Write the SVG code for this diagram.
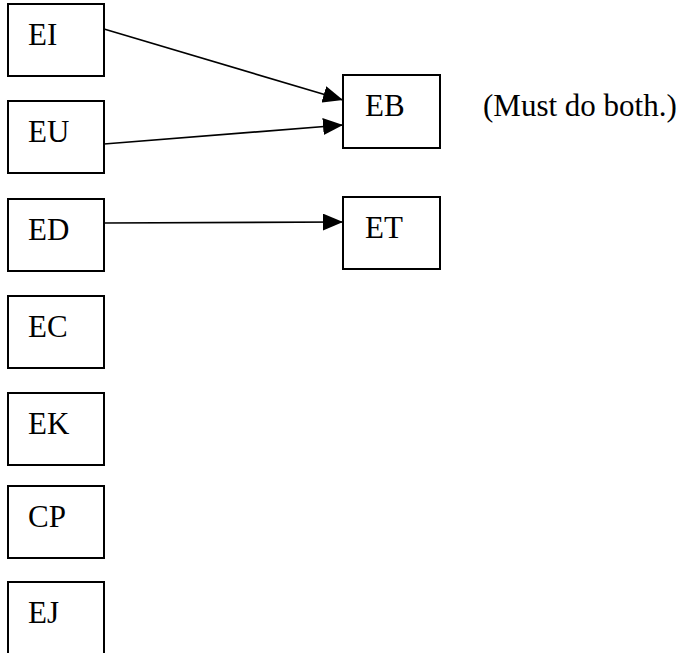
<svg xmlns="http://www.w3.org/2000/svg" width="686" height="653" viewBox="0 0 686 653">
<style>
.box{fill:#fff;stroke:#000;stroke-width:2}
.lbl{font-family:"Liberation Serif","Times New Roman",serif;font-size:31px;fill:#000}
.edge{stroke:#000;stroke-width:1.6;fill:none}
</style>
<defs>
<marker id="arr" viewBox="0 0 20 17" refX="20" refY="8.5" markerWidth="20" markerHeight="17" markerUnits="userSpaceOnUse" orient="auto">
<path d="M0,0 L20,8.5 L0,17 Z" fill="#000"/>
</marker>
</defs>
<rect width="686" height="653" fill="#fff"/>
<g id="connectors">
<line class="edge" x1="104" y1="29" x2="343" y2="100" marker-end="url(#arr)"/>
<line class="edge" x1="104" y1="144" x2="343" y2="125" marker-end="url(#arr)"/>
<line class="edge" x1="104" y1="223" x2="343" y2="222" marker-end="url(#arr)"/>
</g>
<g id="EI"><rect class="box" x="8" y="4" width="96" height="72"/><text class="lbl" x="28" y="45">EI</text></g>
<g id="EU"><rect class="box" x="8" y="101" width="96" height="72"/><text class="lbl" x="28" y="142">EU</text></g>
<g id="ED"><rect class="box" x="8" y="199" width="96" height="72"/><text class="lbl" x="28" y="240">ED</text></g>
<g id="EC"><rect class="box" x="8" y="296" width="96" height="72"/><text class="lbl" x="28" y="337">EC</text></g>
<g id="EK"><rect class="box" x="8" y="393" width="96" height="72"/><text class="lbl" x="28" y="434">EK</text></g>
<g id="CP"><rect class="box" x="8" y="486" width="96" height="72"/><text class="lbl" x="28" y="527">CP</text></g>
<g id="EJ"><rect class="box" x="8" y="582" width="96" height="72"/><text class="lbl" x="28" y="623">EJ</text></g>
<g id="EB"><rect class="box" x="343" y="75" width="97" height="73"/><text class="lbl" x="365" y="116">EB</text></g>
<g id="ET"><rect class="box" x="343" y="197" width="97" height="72"/><text class="lbl" x="365" y="238">ET</text></g>
<text class="lbl" x="483" y="116">(Must do both.)</text>
</svg>
